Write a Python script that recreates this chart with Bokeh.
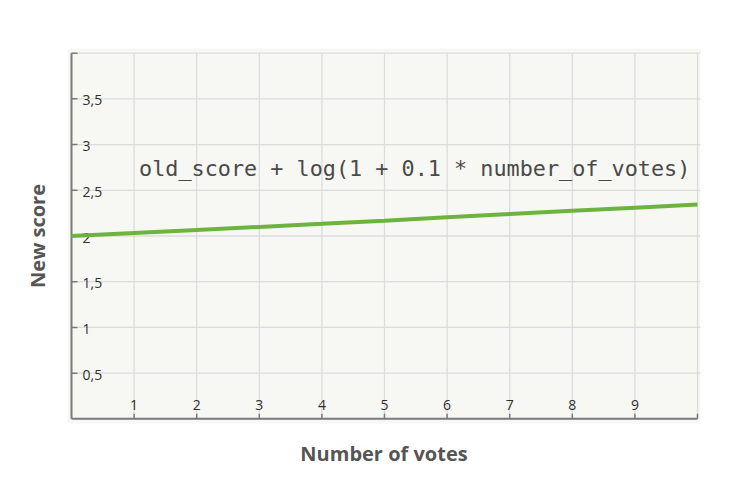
import math
from bokeh.plotting import figure
from bokeh.models import Range1d, Label, Title
from bokeh.core.properties import value
from bokeh.embed import file_html
from bokeh.resources import INLINE

# data
votes = [0, 1, 2, 3, 4, 5, 6, 7, 8, 9, 10]
new_score = [2.00, 2.033, 2.066, 2.099, 2.133, 2.168, 2.204, 2.24, 2.275, 2.31, 2.345]

x_ticks = [1, 2, 3, 4, 5, 6, 7, 8, 9, 10]
x_tick_labels = ["1", "2", "3", "4", "5", "6", "7", "8", "9"]
y_ticks = [0.5, 1, 1.5, 2, 2.5, 3, 3.5, 4]
y_tick_labels = ["0,5", "1", "1,5", "2", "2,5", "3", "3,5"]

formula = "old_score + log(1 + 0.1 * number_of_votes)"
x_title = "Number of votes"
y_title = "New score"

X0, X1 = -0.064, 10.048
Y0, Y1 = -0.051, 4.051

p = figure(width=740, height=484, output_backend="svg", toolbar_location=None,
           x_range=Range1d(X0, X1), y_range=Range1d(Y0, Y1),
           x_axis_type=None, y_axis_type=None)
p.min_border_left = 67
p.min_border_right = 40
p.min_border_top = 48
p.min_border_bottom = 61
p.background_fill_color = "#f7f8f4"
p.border_fill_color = "white"
p.outline_line_color = None

grid_col = "#dcdcdc"
axis_col = "#7a7a7a"

# grid lines
p.segment(x0=x_ticks, y0=[0] * len(x_ticks), x1=x_ticks, y1=[max(y_ticks)] * len(x_ticks),
          line_color=grid_col, line_width=1.3)
p.segment(x0=[0] * len(y_ticks), y0=y_ticks, x1=[X1] * len(y_ticks), y1=y_ticks,
          line_color=grid_col, line_width=1.3)

# axes
p.segment(x0=[0], y0=[0], x1=[0], y1=[max(y_ticks)], line_color=axis_col, line_width=2)
p.segment(x0=[0], y0=[0], x1=[max(x_ticks)], y1=[0], line_color=axis_col, line_width=2)

# ticks (inside)
p.ray(x=[0] * len(y_ticks), y=y_ticks, length=6, length_units="screen", angle=0,
      line_color=axis_col, line_width=1.5)
p.ray(x=x_ticks, y=[0] * len(x_ticks), length=5, length_units="screen", angle=math.pi / 2,
      line_color=axis_col, line_width=1.5)

# tick labels
p.text(x=[0] * len(y_tick_labels), y=y_ticks[:len(y_tick_labels)], text=y_tick_labels,
       x_offset=11, y_offset=1.5, text_align="left", text_baseline="alphabetic",
       text_font=value("Open Sans"), text_font_size="14px", text_color="#2f2f2f")
p.text(x=x_ticks[:len(x_tick_labels)], y=[0] * len(x_tick_labels), text=x_tick_labels,
       y_offset=-14, text_align="center", text_baseline="alphabetic",
       text_font=value("Open Sans"), text_font_size="14px", text_color="#2f2f2f")

# data line
p.line(votes, new_score, line_color="#6db43f", line_width=4)

# formula annotation
p.add_layout(Label(x=1.08, y=2.74, text=formula, text_font="DejaVu Sans Mono",
                   text_font_size="21.8px", text_color="#4a4a4a",
                   text_align="left", text_baseline="middle"))

# axis titles
p.add_layout(Title(text=x_title, align="center", vertical_align="middle", standoff=31,
                   text_font="Open Sans", text_font_style="bold", text_font_size="20px",
                   text_color="#555555"), "below")
p.add_layout(Title(text=y_title, align="center", vertical_align="middle", standoff=31,
                   text_font="Open Sans", text_font_style="bold", text_font_size="20px",
                   text_color="#555555"), "left")

open("out.html", "w").write(file_html(p, INLINE))
